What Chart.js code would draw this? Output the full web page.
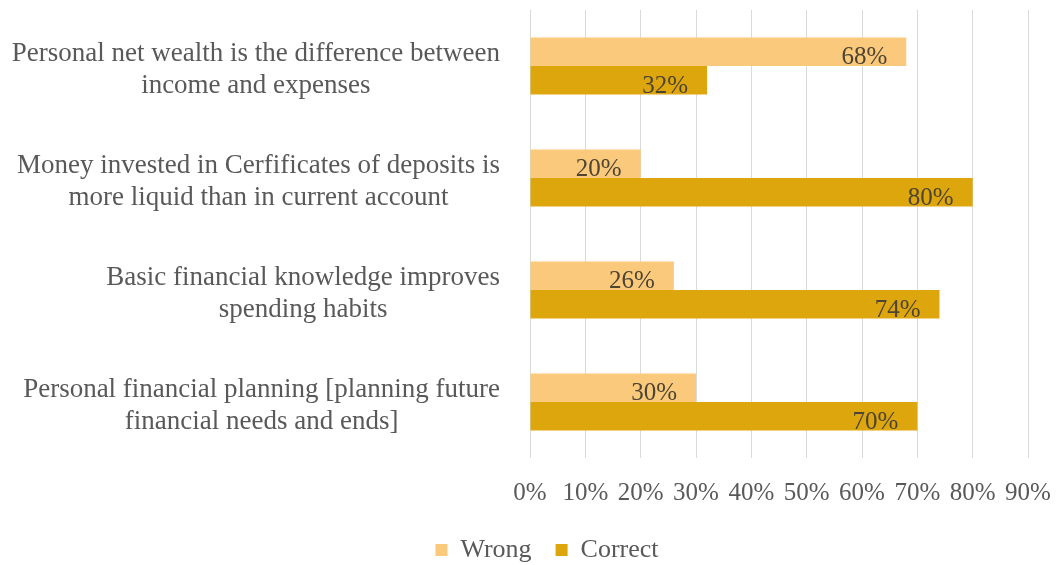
<!DOCTYPE html>
<html>
<head>
<meta charset="utf-8">
<script src="https://cdn.jsdelivr.net/npm/chart.js@4"></script>
<style>
  html, body { margin: 0; padding: 0; background: #fff; }
  #wrap { width: 1060px; height: 565px; }
</style>
</head>
<body>
<div id="wrap"><canvas id="answers-chart"></canvas></div>
<script>
// survey statements, one entry per line of the axis label
const statements = [
  ['Personal net wealth is the difference between', 'income and expenses'],
  ['Money invested in Cerfificates of deposits is', 'more liquid than in current account'],
  ['Basic financial knowledge improves', 'spending habits'],
  ['Personal financial planning [planning future', 'financial needs and ends]']
];
const wrongPct = [68, 20, 26, 30];
const correctPct = [32, 80, 74, 70];
const xTicks = [0, 10, 20, 30, 40, 50, 60, 70, 80, 90];

const SERIF = '"Liberation Serif", "Times New Roman", serif';
const GRAY = '#595959';

// multi-line category labels: block right-aligned, lines centred inside it
const categoryLabels = {
  id: 'categoryLabels',
  afterDraw(chart) {
    const { ctx } = chart;
    const yScale = chart.scales.y;
    const right = chart.chartArea.left - 30;
    ctx.save();
    ctx.font = '27px ' + SERIF;
    ctx.fillStyle = GRAY;
    ctx.textAlign = 'center';
    ctx.textBaseline = 'alphabetic';
    statements.forEach((lines, i) => {
      const cy = yScale.getPixelForTick(i);
      const maxW = Math.max(...lines.map((l) => ctx.measureText(l).width));
      const cx = right - maxW / 2;
      lines.forEach((line, j) => {
        ctx.fillText(line, cx, cy + 10.5 + (j - (lines.length - 1) / 2) * 32);
      });
    });
    ctx.restore();
  }
};

// value labels at the inside end of every bar
const barValues = {
  id: 'barValues',
  afterDatasetsDraw(chart) {
    const { ctx } = chart;
    ctx.save();
    ctx.font = '25px ' + SERIF;
    ctx.fillStyle = '#4d4433';
    ctx.textAlign = 'right';
    ctx.textBaseline = 'alphabetic';
    chart.data.datasets.forEach((ds, di) => {
      chart.getDatasetMeta(di).data.forEach((bar, i) => {
        ctx.fillText(ds.data[i] + '%', bar.x - 19, bar.y + 12.5);
      });
    });
    ctx.restore();
  }
};

new Chart(document.getElementById('answers-chart'), {
  type: 'bar',
  data: {
    labels: statements,
    datasets: [
      { label: 'Wrong', data: wrongPct, backgroundColor: '#fac97b' },
      { label: 'Correct', data: correctPct, backgroundColor: '#dda60d' }
    ]
  },
  options: {
    indexAxis: 'y',
    responsive: true,
    maintainAspectRatio: false,
    animation: false,
    layout: { padding: { top: 10, right: 32, left: 66, bottom: -8 } },
    datasets: { bar: { categoryPercentage: 0.51, barPercentage: 1 } },
    scales: {
      x: {
        min: 0,
        max: 90,
        afterBuildTicks: (scale) => { scale.ticks = xTicks.map((v) => ({ value: v })); },
        afterFit: (scale) => {
          scale.height = 55;
          // the 90% label may hang past the plot edge
          scale.paddingLeft = 0;
          scale.paddingRight = 0;
        },
        grid: { color: '#d9d9d9', lineWidth: 1, drawTicks: false },
        border: { display: false },
        ticks: {
          padding: 20,
          color: GRAY,
          font: { family: SERIF, size: 25 },
          callback: (v) => v + '%'
        }
      },
      y: {
        afterFit: (scale) => { scale.width = 464; },
        grid: { display: false },
        border: { display: false },
        ticks: { display: false }
      }
    },
    plugins: {
      legend: {
        position: 'bottom',
        labels: {
          boxWidth: 12,
          boxHeight: 12,
          padding: 24,
          color: GRAY,
          font: { family: SERIF, size: 26 }
        }
      },
      tooltip: { enabled: false }
    }
  },
  plugins: [categoryLabels, barValues]
});
</script>
</body>
</html>
